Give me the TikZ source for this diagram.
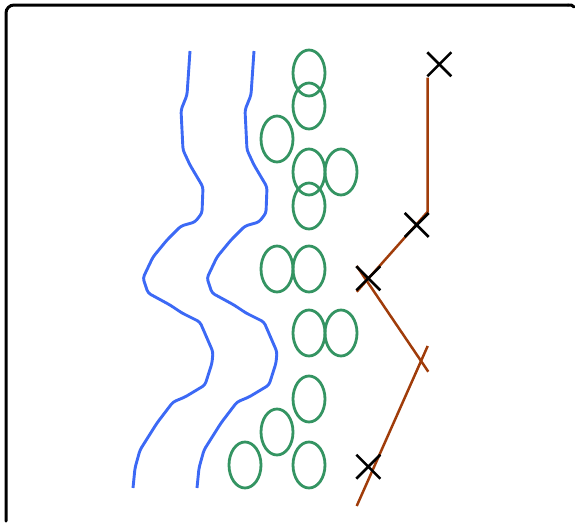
\documentclass[tikz,border=0pt]{standalone}
\begin{document}
\begin{tikzpicture}[x=1pt,y=-1pt,
  frame/.style={line width=3pt,black,line cap=round},
  river/.style={line width=2.9pt,color={rgb,255:red,60;green,105;blue,245},line join=round,rounded corners=3},
  pebble/.style={line width=2.8pt,color={rgb,255:red,52;green,148;blue,98}},
  fault/.style={line width=2.5pt,color={rgb,255:red,160;green,60;blue,10}},
  cross/.style={line width=2.6pt,black}]
\useasboundingbox (0,0) rectangle (575,522);
% frame
\draw[frame,rounded corners=8] (6,521) -- (6,5) -- (568,5);
\draw[frame] (568,5) .. controls (572,5) .. (574,7);
% rivers
\foreach \dx in {0,64}{
\draw[river,xshift=\dx] (190,51) -- (187,95) -- (181,110) -- (183,150) -- (190,165) -- (203,187) -- (202,213) -- (195,222) -- (181,226) -- (167,240) -- (153,257) -- (143,278) -- (148,293) -- (170,305) -- (182,313) -- (200,322) -- (213,352) -- (212,363) -- (205,385) -- (185,397) -- (173,402) -- (157,423) -- (140,450) -- (135,468) -- (133,488);
}
% pebbles
\foreach \cx/\cy in {309/73,309/106,277/139,309/172,341/172,309/206,277/269,309/269,309/333,341/333,309/399,277/432,245/465,309/465}{
\draw[pebble] (\cx,\cy) ellipse [x radius=16, y radius=23];
}
% fault lines
\draw[fault] (427.7,77.7) -- (427.7,211.7) -- (356.7,291.7);
\draw[fault] (356.7,266) -- (428.3,371.7);
\draw[fault] (427.7,346) -- (356.7,506);
% crosses
\foreach \px/\py in {439.3/64.3,416.7/225,368.3/278.3,368.3/466.7}{
\draw[cross] (\px-12,\py-12) -- (\px+12,\py+12) (\px-12,\py+12) -- (\px+12,\py-12);
}
\end{tikzpicture}
\end{document}
